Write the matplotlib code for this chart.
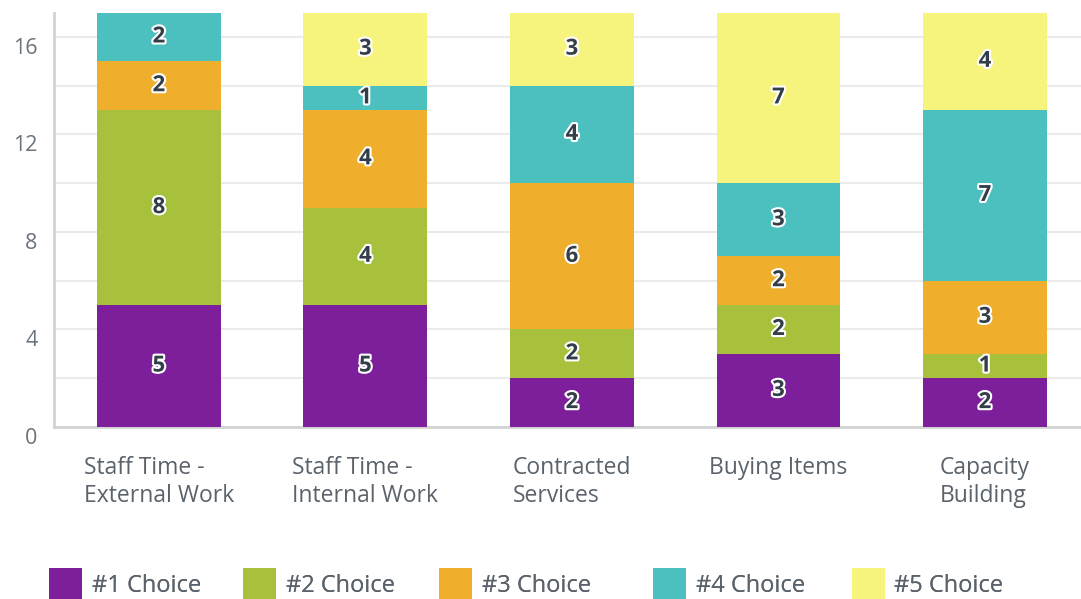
import matplotlib.pyplot as plt
import matplotlib.patheffects as pe
import matplotlib.transforms as mtransforms
import numpy as np

plt.rcParams['font.family'] = ['Open Sans', 'DejaVu Sans']

# data
categories = ['Staff Time -\nExternal Work', 'Staff Time -\nInternal Work',
              'Contracted\nServices', 'Buying Items', 'Capacity\nBuilding']
series_names = ['#1 Choice', '#2 Choice', '#3 Choice', '#4 Choice', '#5 Choice']
choice1 = [5, 5, 2, 3, 2]
choice2 = [8, 4, 2, 2, 1]
choice3 = [2, 4, 6, 2, 3]
choice4 = [2, 1, 4, 3, 7]
choice5 = [0, 3, 3, 7, 4]
colors = ['#7d1f9b', '#a8c13d', '#efae2c', '#4cbfbf', '#f7f47d']

series = [choice1, choice2, choice3, choice4, choice5]

# left edge (px) of each legend swatch
legend_x = [49, 243, 439, 653, 852]

fig = plt.figure(figsize=(10.81, 5.99), dpi=100)
ax = fig.add_axes([54 / 1081, 172 / 599, 1 - 54 / 1081, (427 - 12.6) / 599])

x = np.arange(len(categories))
bottom = np.zeros(len(categories))
handles = []
for vals, col, name in zip(series, colors, series_names):
    vals = np.array(vals, dtype=float)
    bars = ax.bar(x, vals, 0.6, bottom=bottom, color=col, label=name, zorder=3)
    handles.append(bars)
    for xi, v, b in zip(x, vals, bottom):
        if v > 0:
            ax.text(xi, b + v / 2, '%d' % v, ha='center', va='center',
                    fontsize=16, fontweight='bold', color='#333e48', zorder=4,
                    path_effects=[pe.withStroke(linewidth=3, foreground='white')])
    bottom += vals

ax.set_xlim(-0.508, 4.465)
ax.set_ylim(0, 17)
ax.set_yticks([0, 4, 8, 12, 16])
ax.set_yticks([2, 6, 10, 14], minor=True)
ax.yaxis.grid(True, which='both', color='#ebebeb', linewidth=1.5, zorder=0)
ax.set_xticks(x)
ax.set_xticklabels(categories, multialignment='left', linespacing=1.2)

ax.tick_params(axis='y', which='both', length=0, pad=12, labelsize=15.5, labelcolor='#6b737c')
ax.tick_params(axis='x', length=0, pad=21, labelsize=16.5, labelcolor='#5a636b')

# y labels sit a little below their grid line
offset = mtransforms.ScaledTranslation(0, -9 / 100, fig.dpi_scale_trans)
for lab in ax.get_yticklabels():
    lab.set_transform(lab.get_transform() + offset)

for s in ['top', 'right']:
    ax.spines[s].set_visible(False)
ax.spines['left'].set_color('#d3d3d3')
ax.spines['left'].set_linewidth(2)
ax.spines['bottom'].set_color('#d3d3d3')
ax.spines['bottom'].set_linewidth(2)

# one small legend per entry so each sits where it does in the original
for h, name, lx in zip(handles, series_names, legend_x):
    leg = fig.legend([h], [name], loc='upper left', bbox_to_anchor=(lx / 1081, 1 - 568 / 599),
                     frameon=False, fontsize=17, labelcolor='#5a636b',
                     handlelength=1.4, handleheight=1.7, handletextpad=0.4,
                     borderpad=0, borderaxespad=0)
    fig.add_artist(leg)

fig.savefig('out.png', dpi=100)
